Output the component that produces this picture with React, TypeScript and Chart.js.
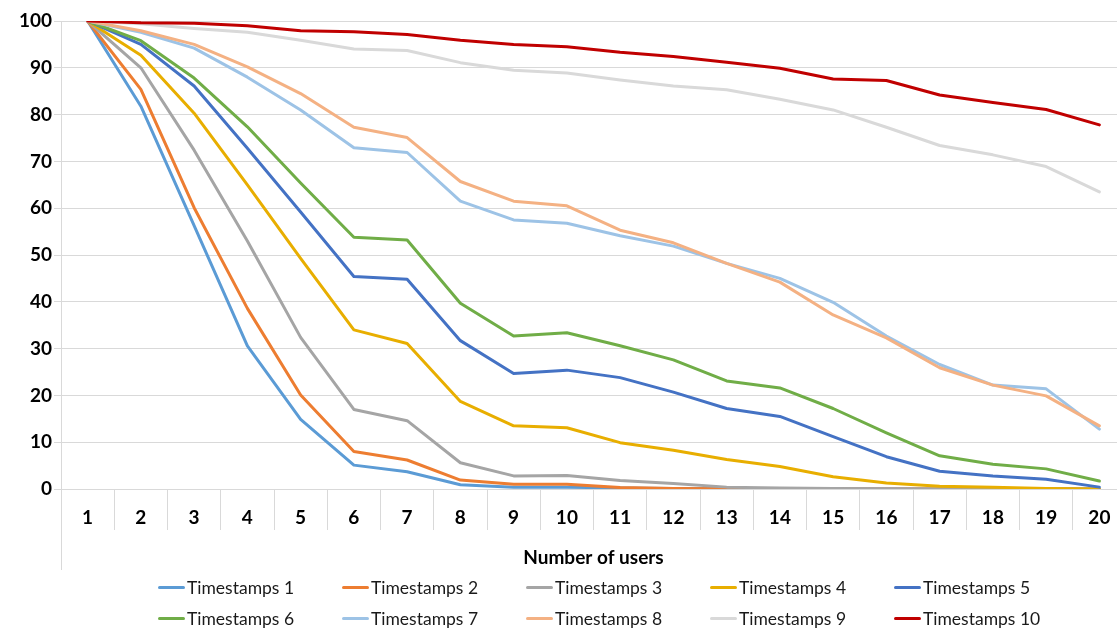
import React, { useEffect, useRef } from "react";
import { Chart, registerables } from "chart.js";

Chart.register(...registerables);

const categories = ["1","2","3","4","5","6","7","8","9","10","11","12","13","14","15","16","17","18","19","20"];

const seriesNames = [
  "Timestamps 1", "Timestamps 2", "Timestamps 3", "Timestamps 4", "Timestamps 5",
  "Timestamps 6", "Timestamps 7", "Timestamps 8", "Timestamps 9", "Timestamps 10",
];

const seriesColors = [
  "#5B9BD5", "#ED7D31", "#A5A5A5", "#E8AE00", "#4472C4",
  "#70AD47", "#9DC3E6", "#F4B183", "#D9D9D9", "#C00000",
];

const ts1 = [100, 81.8, 56.3, 30.6, 14.9, 5.1, 3.7, 0.9, 0.4, 0.4, 0.2, 0.1, 0.05, 0, 0, 0, 0, 0, 0, 0];
const ts2 = [100, 85.4, 60.1, 38.6, 20.1, 8.0, 6.2, 1.9, 1.0, 1.0, 0.3, 0.1, 0.05, 0, 0, 0, 0, 0, 0, 0];
const ts3 = [100, 90.0, 72.4, 53.0, 32.4, 17.0, 14.6, 5.6, 2.8, 2.9, 1.8, 1.2, 0.4, 0.2, 0.1, 0.05, 0, 0, 0, 0];
const ts4 = [100, 92.7, 80.3, 65.0, 49.3, 34.0, 31.1, 18.7, 13.5, 13.1, 9.9, 8.3, 6.3, 4.8, 2.6, 1.3, 0.6, 0.4, 0.1, 0];
const ts5 = [100, 95.0, 86.1, 72.8, 59.2, 45.4, 44.8, 31.7, 24.7, 25.4, 23.8, 20.7, 17.2, 15.5, 11.2, 6.9, 3.8, 2.8, 2.1, 0.4];
const ts6 = [100, 95.8, 87.8, 77.4, 65.4, 53.8, 53.2, 39.7, 32.7, 33.4, 30.6, 27.6, 23.1, 21.6, 17.2, 12.0, 7.1, 5.3, 4.3, 1.7];
const ts7 = [100, 97.6, 94.2, 88.0, 81.0, 72.9, 71.9, 61.5, 57.5, 56.8, 54.1, 51.9, 48.2, 45.0, 39.9, 32.7, 26.6, 22.2, 21.4, 12.8];
const ts8 = [100, 97.9, 95.0, 90.2, 84.5, 77.3, 75.1, 65.7, 61.5, 60.5, 55.3, 52.6, 48.2, 44.2, 37.2, 32.3, 25.9, 22.2, 19.9, 13.5];
const ts9 = [100, 99.4, 98.4, 97.6, 95.9, 94.0, 93.7, 91.1, 89.5, 88.9, 87.4, 86.1, 85.3, 83.3, 81.0, 77.3, 73.4, 71.4, 68.9, 63.5];
const ts10 = [100, 99.6, 99.5, 99.0, 97.9, 97.7, 97.1, 95.9, 95.0, 94.5, 93.3, 92.4, 91.2, 89.9, 87.6, 87.3, 84.2, 82.6, 81.1, 77.8];

const seriesValues = [ts1, ts2, ts3, ts4, ts5, ts6, ts7, ts8, ts9, ts10];

const yTicks = { min: 0, max: 100, step: 10 };
const xTitle = "Number of users";

const FONT = 'Lato, "Open Sans", sans-serif';
const GRID = "#D9D9D9";

const axisExtension = {
  id: "axisExtension",
  afterDraw(chart: any) {
    const { ctx, chartArea } = chart;
    ctx.save();
    ctx.strokeStyle = GRID;
    ctx.lineWidth = 1;
    ctx.beginPath();
    const x = Math.round(chartArea.left) + 0.5;
    ctx.moveTo(x, chartArea.bottom);
    ctx.lineTo(x, chartArea.bottom + 81);
    ctx.stroke();
    ctx.restore();
  },
};

export default function App() {
  const canvasRef = useRef<HTMLCanvasElement | null>(null);

  useEffect(() => {
    document.body.style.margin = "0";
    const canvas = canvasRef.current;
    if (!canvas) return;
    const chart = new Chart(canvas, {
      type: "line",
      data: {
        labels: categories,
        datasets: seriesValues.map((vals, i) => ({
          label: seriesNames[i],
          data: vals,
          borderColor: seriesColors[i],
          backgroundColor: seriesColors[i],
          borderWidth: 3,
          pointRadius: 0,
          tension: 0,
          borderJoinStyle: "round" as const,
          borderCapStyle: "round" as const,
          order: seriesValues.length - i,
        })),
      },
      options: {
        animation: false,
        responsive: false,
        devicePixelRatio: 1,
        layout: { padding: { top: 21, left: 0, right: 0, bottom: 53 } },
        plugins: {
          legend: { display: false },
          tooltip: { enabled: false },
        },
        scales: {
          x: {
            type: "category",
            offset: true,
            grid: {
              offset: true,
              drawOnChartArea: false,
              drawTicks: true,
              tickLength: 41,
              color: GRID,
              lineWidth: 1,
            },
            border: { display: true, color: GRID, width: 1 },
            ticks: {
              color: "#000",
              padding: -24,
              maxRotation: 0,
              autoSkip: false,
              font: { family: FONT, size: 19, weight: "bold" },
            },
            title: {
              display: true,
              text: xTitle,
              color: "#000",
              font: { family: FONT, size: 19, weight: "bold" },
              padding: { top: 0, bottom: 6 },
            },
            afterFit(scale: any) {
              scale.height = 86;
            },
          },
          y: {
            min: yTicks.min,
            max: yTicks.max,
            grid: {
              color: GRID,
              lineWidth: 1,
              drawTicks: true,
              tickLength: 7,
            },
            border: { display: true, color: GRID, width: 1 },
            ticks: {
              stepSize: yTicks.step,
              color: "#000",
              padding: 2,
              font: { family: FONT, size: 19, weight: "bold" },
            },
            afterFit(scale: any) {
              scale.width = 61;
            },
          },
        },
      },
      plugins: [axisExtension],
    });
    return () => chart.destroy();
  }, []);

  return (
    <div
      style={{
        position: "fixed",
        left: 0,
        top: 0,
        width: 1117,
        height: 628,
        overflow: "hidden",
        background: "#fff",
      }}
    >
      <canvas
        ref={canvasRef}
        width={1126}
        height={628}
        style={{ position: "absolute", left: 0, top: 0, width: 1126, height: 628 }}
      />
      <div
        style={{
          position: "absolute",
          left: 158,
          top: 572,
          display: "grid",
          gridTemplateColumns: "repeat(5, 184px)",
          gridAutoRows: "31px",
          fontFamily: FONT,
          fontSize: 17.5,
          color: "#1a1a1a",
        }}
      >
        {seriesNames.map((name, i) => (
          <div key={name} style={{ display: "flex", alignItems: "center", whiteSpace: "nowrap" }}>
            <span
              style={{
                display: "inline-block",
                width: 27,
                height: 3,
                background: seriesColors[i],
                borderRadius: 1.5,
                marginRight: 2,
              }}
            />
            <span style={{ lineHeight: 1 }}>{name}</span>
          </div>
        ))}
      </div>
    </div>
  );
}
